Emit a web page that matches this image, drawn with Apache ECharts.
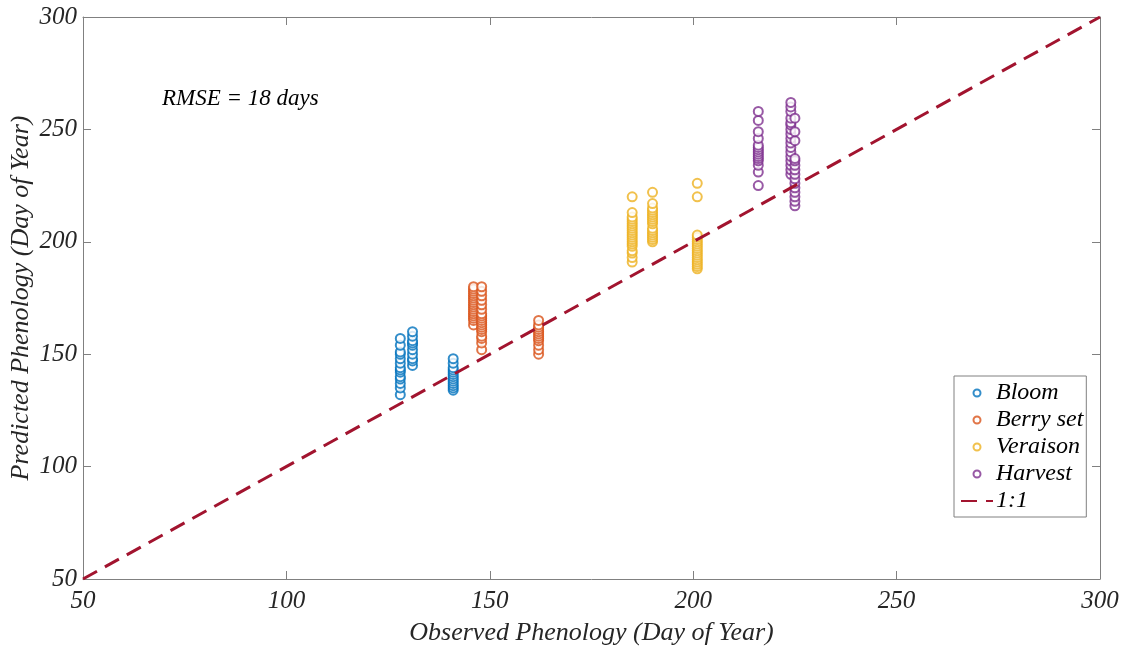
<!DOCTYPE html>
<html>
<head>
<meta charset="utf-8">
<script src="https://cdn.jsdelivr.net/npm/echarts@6/dist/echarts.min.js"></script>
<style>
  html, body { margin: 0; padding: 0; background: #fff; }
</style>
</head>
<body>
<div id="phenoChart" style="width: 1121px; height: 648px;"></div>
<script>
  // observed day (x) per column, predicted days (y) per column
  var bloomX = [128, 131, 141];
  var bloomY = [
    [132, 135, 137, 139, 140, 142, 143, 144, 146, 148, 150, 151, 154, 157],
    [145, 147, 148, 150, 152, 154, 155, 156, 158, 160],
    [134, 135, 136, 137, 138, 139, 140, 141, 142, 143, 144, 146, 148]
  ];
  var berryX = [146, 148, 162];
  var berryY = [
    [163, 165, 166, 167, 168, 169, 170, 171, 172, 173, 174, 175, 176, 177, 178, 179, 180],
    [152, 155, 157, 158, 160, 161, 162, 163, 164, 165, 166, 167, 168, 170, 172, 174, 176, 178, 180],
    [150, 152, 154, 156, 157, 158, 159, 160, 161, 162, 163, 165]
  ];
  var veraisonX = [185, 190, 201];
  var veraisonY = [
    [191, 193, 195, 196, 198, 199, 200, 201, 202, 203, 204, 205, 206, 207, 208, 209, 210, 211, 213, 220],
    [200, 201, 202, 203, 204, 205, 206, 208, 209, 210, 211, 212, 213, 214, 215, 217, 222],
    [188, 189, 190, 191, 192, 193, 194, 195, 196, 197, 198, 199, 200, 201, 202, 203, 220, 226]
  ];
  var harvestX = [216, 224, 225];
  var harvestY = [
    [225, 231, 234, 236, 237, 238, 239, 240, 241, 242, 243, 246, 249, 254, 258],
    [230, 232, 234, 236, 238, 240, 242, 244, 246, 248, 250, 252, 253, 255, 258, 260, 262],
    [216, 218, 220, 222, 224, 226, 228, 230, 232, 234, 236, 237, 245, 249, 255]
  ];
  var oneToOne = [50, 300];

  function toPoints(xs, ys) {
    var pts = [];
    xs.forEach(function (x, i) {
      ys[i].forEach(function (y) { pts.push([x, y]); });
    });
    return pts;
  }

  var serif = '"Liberation Serif", "DejaVu Serif", serif';
  var axisGray = '#808080';
  var labelFont = { fontFamily: serif, fontStyle: 'italic', fontSize: 25, color: '#262626' };
  var nameFont = { fontFamily: serif, fontStyle: 'italic', fontSize: 26, color: '#262626' };

  function scatter(name, color, pts) {
    return {
      name: name,
      type: 'scatter',
      symbol: 'emptyCircle',
      symbolSize: 9,
      itemStyle: { color: color, borderColor: color, borderWidth: 0.8 },
      data: pts
    };
  }

  var baseAxis = {
    type: 'value',
    min: 50,
    max: 300,
    interval: 50,
    splitLine: { show: false },
    axisLine: { lineStyle: { color: axisGray, width: 1 } },
    axisTick: { inside: true, length: 8, lineStyle: { color: axisGray } }
  };

  var chart = echarts.init(document.getElementById('phenoChart'));
  var option = {
    animation: false,
    backgroundColor: '#fff',
    textStyle: { fontFamily: serif },
    grid: { left: 83, right: 21, top: 17, bottom: 69, outerBoundsMode: 'none', containLabel: false },
    title: {
      text: 'RMSE = 18 days',
      left: 157,
      top: 82,
      textStyle: { fontFamily: serif, fontStyle: 'italic', fontWeight: 'normal', fontSize: 23, color: '#000' }
    },
    legend: {
      orient: 'vertical',
      left: 954,
      top: 376,
      padding: [5, 3, 4, 6],
      backgroundColor: '#fff',
      borderColor: axisGray,
      borderWidth: 1,
      itemWidth: 32,
      itemHeight: 7,
      itemGap: 3,
      textStyle: { fontFamily: serif, fontStyle: 'italic', fontSize: 24, color: '#000', padding: [0, 0, 0, -2] },
      data: [
        { name: 'Bloom', icon: 'emptyCircle' },
        { name: 'Berry set', icon: 'emptyCircle' },
        { name: 'Veraison', icon: 'emptyCircle' },
        { name: 'Harvest', icon: 'emptyCircle' },
        { name: '1:1', itemStyle: { opacity: 0 } }
      ]
    },
    xAxis: [
      Object.assign({}, baseAxis, {
        position: 'bottom',
        name: 'Observed Phenology (Day of Year)',
        nameLocation: 'middle',
        nameGap: 41,
        nameMoveOverlap: false,
        nameTextStyle: nameFont,
        axisLabel: Object.assign({ margin: 10 }, labelFont)
      }),
      Object.assign({}, baseAxis, {
        position: 'top',
        axisLabel: { show: false }
      })
    ],
    yAxis: [
      Object.assign({}, baseAxis, {
        position: 'left',
        name: 'Predicted Phenology (Day of Year)',
        nameLocation: 'middle',
        nameGap: 49,
        nameMoveOverlap: false,
        nameTextStyle: nameFont,
        axisLabel: Object.assign({ margin: 6 }, labelFont)
      }),
      Object.assign({}, baseAxis, {
        position: 'right',
        axisLabel: { show: false }
      })
    ],
    series: [
      scatter('Bloom', '#0072BD', toPoints(bloomX, bloomY)),
      scatter('Berry set', '#D95319', toPoints(berryX, berryY)),
      scatter('Veraison', '#EDB120', toPoints(veraisonX, veraisonY)),
      scatter('Harvest', '#7E2F8E', toPoints(harvestX, harvestY)),
      {
        name: '1:1',
        type: 'line',
        symbol: 'none',
        z: 5,
        lineStyle: { color: '#A2142F', width: 3, type: [16, 9] },
        itemStyle: { color: '#A2142F' },
        data: oneToOne.map(function (v) { return [v, v]; })
      }
    ]
  };
  chart.setOption(option);
  window.addEventListener('resize', function () {
    chart.resize();
  });
</script>
</body>
</html>
